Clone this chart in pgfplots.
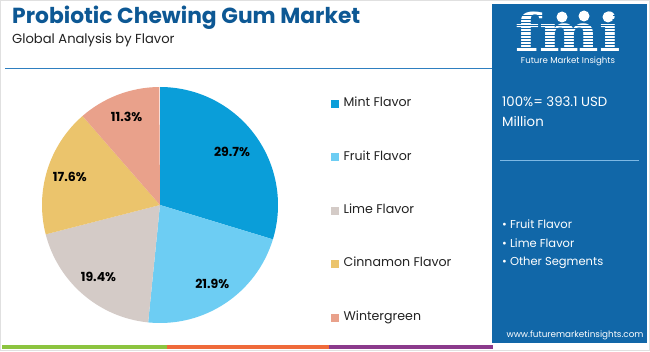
\documentclass[border=0pt]{standalone}
\usepackage{pgfplots}
\pgfplotsset{compat=1.18}
\usepackage{pgfplotstable}
\usepackage{fontspec}
\setmainfont{Poppins}
\newfontfamily\logofont{DejaVu Serif}

\definecolor{slice0}{HTML}{0A9ED9}
\definecolor{slice1}{HTML}{6DCDF3}
\definecolor{slice2}{HTML}{D4CBC7}
\definecolor{slice3}{HTML}{EBC46C}
\definecolor{slice4}{HTML}{E9A18B}
\definecolor{titleblue}{HTML}{0D5894}
\definecolor{panelblue}{HTML}{1167A8}
\definecolor{lineblue}{HTML}{2E7FC0}
\definecolor{panelline}{HTML}{7DB8E4}
\definecolor{bargreen}{HTML}{8CC43F}
\definecolor{barorange}{HTML}{EF6A3A}
\definecolor{barpurple}{HTML}{8B3A8C}
\definecolor{txt}{HTML}{222222}

\newcommand\lbl{\bfseries\fontsize{12.5}{14}\selectfont}

\pgfplotstableread{
name value
Mint 29.7
Fruit 21.9
Lime 19.4
Cinnamon 17.6
Wintergreen 11.3
}\piedata

\begin{document}
\begin{tikzpicture}[x=1pt,y=1pt]
% canvas
\fill[white] (0,0) rectangle (650,351);
\draw[black!12, line width=0.8pt] (0.5,0.5) rectangle (649.5,350.5);

% title
\node[anchor=base west, inner sep=0, text=titleblue, font=\bfseries\fontsize{21.8}{25}\selectfont] at (12,327) {Probiotic Chewing Gum Market};
\node[anchor=base west, inner sep=0, text=txt, font=\fontsize{13.1}{15}\selectfont] at (12,307) {Global Analysis by Flavor};
\draw[lineblue, line width=1pt] (5,282) -- (493,282);

% bottom stripes
\fill[bargreen] (2,2) rectangle (167,6);
\fill[barorange] (167,2) rectangle (329,6);
\fill[barpurple] (329,2) rectangle (493,6);

% right panel
\fill[panelblue] (492,8) rectangle (647,347);
\node[anchor=base, text=white, inner sep=0, text depth=0pt, xscale=1.08, font=\logofont\bfseries\fontsize{52}{52}\selectfont] at (568,299) {fmi};
\foreach \yy in {300,303.2,...,338} {\draw[panelblue, line width=0.9pt] (508,\yy) -- (628,\yy);}
\fill[white] (562,334) circle (5.5);
\fill[white] (584,335) circle (5.5);
\fill[white] (608,334) circle (5.5);
\node[anchor=base, text=white, inner sep=0, font=\fontsize{8.6}{10}\selectfont] at (568,287) {Future Market Insights};
\node[anchor=base west, inner sep=0, text=white, font=\fontsize{13.3}{15}\selectfont] at (502,244) {100\%= 393.1 USD};
\node[anchor=base west, inner sep=0, text=white, font=\fontsize{13.3}{15}\selectfont] at (502,224) {Million};
\draw[panelline, line width=1pt] (500,190) -- (639,190);
\node[anchor=base west, inner sep=0, text=white, font=\fontsize{11.5}{13}\selectfont] at (502,123) {\textbullet\ Fruit Flavor};
\node[anchor=base west, inner sep=0, text=white, font=\fontsize{11.5}{13}\selectfont] at (502,104) {\textbullet\ Lime Flavor};
\node[anchor=base west, inner sep=0, text=white, font=\fontsize{11.5}{13}\selectfont] at (502,86) {\textbullet\ Other Segments};
\node[anchor=base, inner sep=0, text=white, font=\fontsize{8.8}{10}\selectfont] at (575,14) {www.futuremarketinsights.com};

% pie
\begin{axis}[
  hide axis, clip=false,
  at={(160pt,146pt)}, anchor=center,
  scale only axis, width=236pt, height=236pt,
  xmin=-1, xmax=1, ymin=-1, ymax=1,
  legend cell align=left,
  legend image code/.code={\fill[#1] (0pt,-3.5pt) rectangle (7pt,3.5pt);},
  legend style={at={(axis description cs:1.2246,0.477)}, anchor=west,
    draw=none, fill=none, inner sep=0pt, row sep=43.4pt, column sep=5pt,
    font=\fontsize{12.6}{14}\selectfont, text=txt,
    nodes={inner sep=0pt, text height=8pt, text depth=2pt}},
]
\pgfmathsetmacro\cum{0}
\pgfplotsforeachungrouped \i in {0,...,4}{
  \pgfplotstablegetelem{\i}{value}\of\piedata
  \let\v\pgfplotsretval
  \pgfmathsetmacro\a{90-3.6*\cum}
  \pgfmathsetmacro\b{90-3.6*(\cum+\v)}
  \pgfmathsetmacro\m{(\a+\b)/2}
  \pgfmathsetmacro\rr{ifthenelse(\i==0,0.76,0.8)}
  \edef\temp{\noexpand\fill[slice\i] (axis cs:0,0) -- (axis cs:{cos(\a)},{sin(\a)}) arc[start angle=\a, end angle=\b, radius=118pt] -- cycle;
    \noexpand\node[font=\noexpand\lbl, text=black] at (axis cs:{\rr*cos(\m)},{\rr*sin(\m)}) {\v\noexpand\%};}
  \temp
  \pgfmathsetmacro\cum{\cum+\v}
}
\addlegendimage{slice0}\addlegendentry{Mint Flavor}
\addlegendimage{slice1}\addlegendentry{Fruit Flavor}
\addlegendimage{slice2}\addlegendentry{Lime Flavor}
\addlegendimage{slice3}\addlegendentry{Cinnamon Flavor}
\addlegendimage{slice4}\addlegendentry{Wintergreen}
\end{axis}
\end{tikzpicture}
\end{document}
